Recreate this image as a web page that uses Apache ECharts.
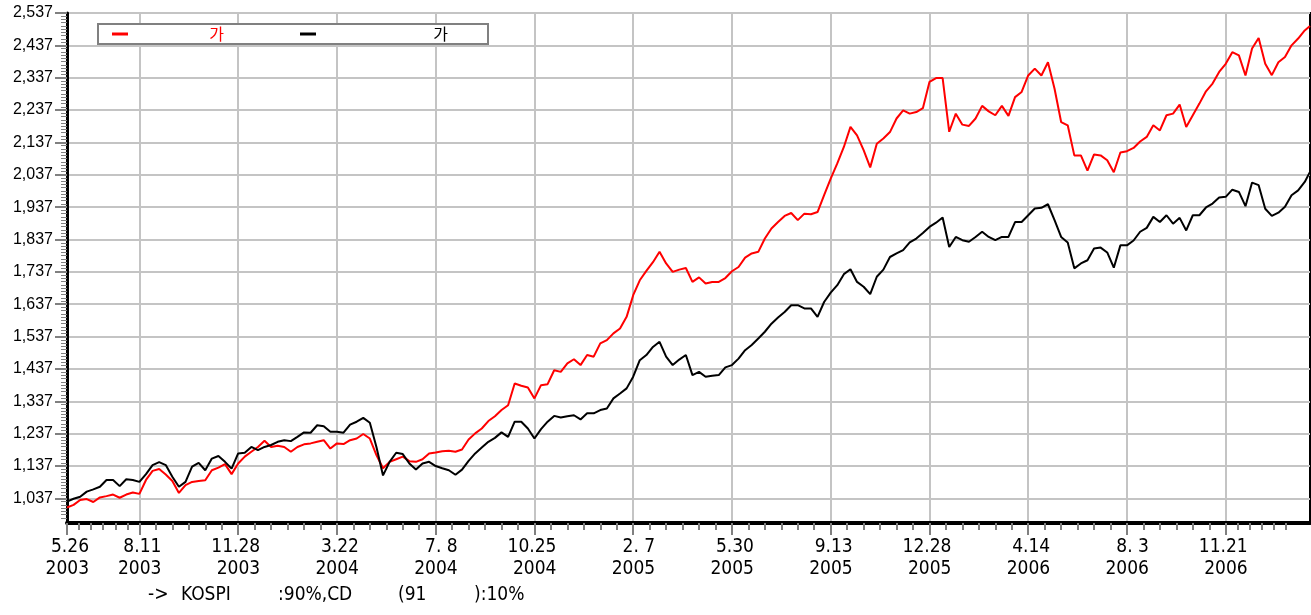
<!DOCTYPE html>
<html>
<head>
<meta charset="utf-8">
<script src="https://cdn.jsdelivr.net/npm/echarts@6/dist/echarts.min.js"></script>
<style>
html,body{margin:0;padding:0;background:#fff;}
#c{width:1311px;height:615px;}
</style>
</head>
<body>
<div id="c"></div>
<script>
// ---- data ----
const seriesNames = ['가', '가 '];
const yTicks = [1037, 1137, 1237, 1337, 1437, 1537, 1637, 1737, 1837, 1937, 2037, 2137, 2237, 2337, 2437, 2537];
const xTickDays = [0, 55, 130, 205, 280, 355, 430, 505, 580, 655, 730, 805, 880];
const xTickLabels = ['5.26\n2003', '8.11\n2003', '11.28\n2003', '3.22\n2004', '7. 8\n2004', '10.25\n2004',
  '2. 7\n2005', '5.30\n2005', '9.13\n2005', '12.28\n2005', '4.14\n2006', '8. 3\n2006', '11.21\n2006'];
const sampleStep = 5;     // trading days between samples
const lastDay = 944;      // last trading day on the axis
const redValues = [
  1009,1017,1032,1035,1026,1040,1044,1049,1039,1049,1055,1051,1094,1122,1128,1111,1091,1054,1078,1088,1091,1093,1124,1132,1143,1112,1145,1166,1181,1196,1215,
  1196,1200,1196,1181,1196,1204,1207,1212,1217,1191,1207,1205,1217,1222,1236,1222,1171,1130,1150,1158,1166,1152,1150,1158,1176,1179,1183,1184,1181,1188,1219,
  1238,1253,1276,1291,1310,1325,1392,1385,1380,1346,1387,1390,1433,1428,1454,1467,1449,1480,1475,1516,1526,1547,1562,1598,1665,1711,1740,1767,1799,1763,1737,
  1744,1749,1706,1720,1701,1706,1706,1718,1739,1752,1781,1794,1799,1840,1871,1891,1910,1919,1897,1917,1915,1922,1974,2025,2072,2123,2185,2159,2113,2060,2133,2149,
  2169,2211,2236,2226,2231,2243,2324,2336,2336,2170,2226,2192,2188,2211,2250,2233,2221,2250,2219,2277,2293,2344,2365,2344,2385,2303,2200,2190,2097,2097,2050,2100,
  2097,2082,2045,2106,2110,2120,2140,2154,2190,2174,2221,2226,2254,2185,2221,2257,2295,2319,2355,2380,2416,2406,2344,2427,2460,2380,2345,2385,2401,2437,2458,2483,
  2497
];
const blackValues = [
  1027,1036,1042,1058,1065,1073,1094,1094,1075,1096,1094,1088,1112,1140,1149,1140,1104,1073,1088,1135,1147,1124,1160,1168,1150,1129,1176,1178,1196,1186,1196,
  1202,1212,1217,1214,1227,1241,1240,1263,1260,1243,1243,1240,1265,1274,1286,1271,1196,1108,1150,1178,1174,1145,1126,1145,1150,1137,1130,1124,1110,1126,1153,
  1176,1194,1212,1224,1241,1227,1274,1274,1253,1222,1251,1274,1292,1287,1291,1294,1281,1300,1300,1310,1315,1346,1361,1377,1413,1464,1480,1505,1521,1475,1449,
  1466,1480,1418,1428,1413,1416,1418,1442,1449,1469,1495,1511,1531,1552,1577,1596,1613,1634,1634,1624,1624,1598,1644,1673,1696,1730,1745,1706,1691,1668,1722,1744,
  1783,1794,1804,1828,1840,1857,1876,1889,1905,1814,1845,1835,1830,1845,1861,1845,1835,1845,1845,1891,1891,1912,1933,1935,1946,1897,1845,1828,1748,1763,1773,1809,
  1812,1797,1750,1819,1819,1834,1861,1873,1907,1891,1912,1886,1904,1865,1912,1912,1936,1948,1967,1969,1991,1984,1940,2013,2005,1932,1910,1920,1938,1974,1989,2015,
  2046
];
const footerParts = ['->', 'KOSPI', ':90%,CD', '(91', '):10%'];

// ---- layout / style ----
const footerX = [148, 181, 278, 398, 474];
const narrowFont = "'Liberation Sans Narrow','DejaVu Sans Condensed','Liberation Sans',sans-serif";
const yMin = 961, yMax = 2537;

const days = redValues.map((_, i) => i < redValues.length - 1 ? i * sampleStep : lastDay);
const toPairs = vals => vals.map((v, i) => [days[i], v]);

// minor ticks (tick positions only)
const yMinor = [];
for (let v = yTicks[0] - 60; v < yMax; v += 10) if (!yTicks.includes(v)) yMinor.push(v);
const xMinor = [];
for (let i = 0; i < xTickDays.length - 1; i++) {
  const a = xTickDays[i], b = xTickDays[i + 1];
  for (let k = 1; k < 6; k++) xMinor.push(a + (b - a) * k / 6);
}
{
  const step = (xTickDays[1] - xTickDays[0]) / 6;
  const last = xTickDays[xTickDays.length - 1];
  for (let k = 1; k < 6; k++) xMinor.push(last + step * k);
}

const chart = echarts.init(document.getElementById('c'), null, {renderer: 'canvas'});
chart.setOption({
  animation: false,
  backgroundColor: '#fff',
  grid: {left: 67, right: 1, top: 13, bottom: 92, show: true, borderColor: '#000', borderWidth: 2, backgroundColor: 'transparent'},
  legend: {
    left: 98, top: 24,
    padding: [2, 40, 2, 14],
    itemGap: 76, itemWidth: 16, itemHeight: 3, icon: 'rect',
    borderColor: '#808080', borderWidth: 2, backgroundColor: '#fff',
    data: seriesNames,
    formatter: n => (n === seriesNames[0] ? '{r|' : '{k|') + n.trim() + '}',
    textStyle: {
      fontSize: 16, lineHeight: 16,
      rich: {
        r: {width: 91, align: 'right', color: '#ff0000', fontSize: 16, fontFamily: "'Noto Sans CJK KR',sans-serif"},
        k: {width: 127, align: 'right', color: '#000', fontSize: 16, fontFamily: "'Noto Sans CJK KR',sans-serif"}
      }
    }
  },
  xAxis: [{
    type: 'value', min: 0, max: lastDay,
    axisLine: {show: true, onZero: false, lineStyle: {color: '#000', width: 4}},
    axisTick: {show: true, customValues: xTickDays, length: 12, lineStyle: {color: '#808080', width: 2}},
    splitLine: {show: true, lineStyle: {color: '#c4c4c4', width: 2}},
    axisLabel: {
      customValues: xTickDays, margin: 13, color: '#000',
      fontFamily: narrowFont, fontSize: 19, lineHeight: 22,
      formatter: v => {
        const i = xTickDays.indexOf(Math.round(v));
        if (i < 0) return '';
        return xTickLabels[i].split('\n').map(s => '{a|' + s + '}').join('\n');
      },
      rich: {a: {width: 44, align: 'right', fontFamily: narrowFont, fontSize: 19, lineHeight: 22, color: '#000'}}
    }
  }, {
    type: 'value', min: 0, max: lastDay, position: 'bottom',
    axisLine: {show: false},
    axisTick: {show: true, customValues: xMinor, length: 7, lineStyle: {color: '#808080', width: 2}},
    axisLabel: {show: false},
    splitLine: {show: false}
  }],
  yAxis: [{
    type: 'value', min: yMin, max: yMax,
    axisLine: {show: true, onZero: false, lineStyle: {color: '#000', width: 3}},
    axisTick: {show: true, customValues: yTicks, length: 12, lineStyle: {color: '#808080', width: 2}},
    splitLine: {show: true, lineStyle: {color: '#c4c4c4', width: 2}},
    axisLabel: {
      customValues: yTicks, margin: 14, color: '#000',
      fontFamily: "'Liberation Sans',Arial,sans-serif", fontSize: 16,
      formatter: v => Math.round(v).toLocaleString('en-US')
    }
  }, {
    type: 'value', min: yMin, max: yMax, position: 'left',
    axisLine: {show: false},
    axisTick: {show: true, customValues: yMinor, length: 6, lineStyle: {color: '#808080', width: 1}},
    axisLabel: {show: false},
    splitLine: {show: false}
  }],
  series: [{
    name: seriesNames[0], type: 'line', xAxisIndex: 0, yAxisIndex: 0,
    showSymbol: false, symbol: 'none', color: '#ff0000',
    lineStyle: {color: '#ff0000', width: 2}, data: toPairs(redValues), z: 3
  }, {
    name: seriesNames[1], type: 'line', xAxisIndex: 0, yAxisIndex: 0,
    showSymbol: false, symbol: 'none', color: '#000',
    lineStyle: {color: '#000', width: 2}, data: toPairs(blackValues), z: 4
  }],
  graphic: footerParts.map((t, i) => ({
    type: 'text', left: footerX[i], top: 586,
    style: {text: t, font: '19px ' + narrowFont, fill: '#000'}
  }))
});
</script>
</body>
</html>
